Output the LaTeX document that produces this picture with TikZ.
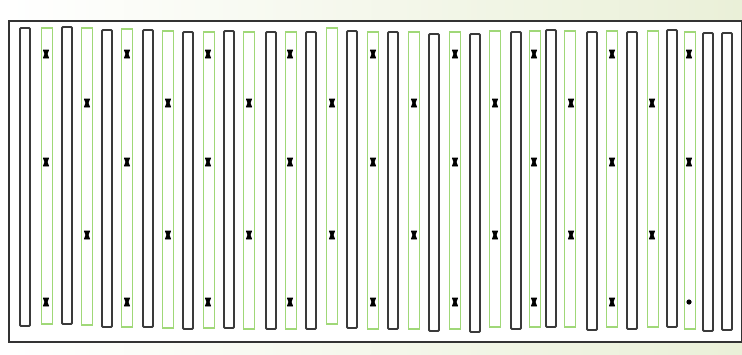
\documentclass[tikz,border=0pt]{standalone}
\begin{document}
\begin{tikzpicture}[x=1pt,y=-1pt,
  blackbar/.style={draw=barblack,line width=1.8pt,rounded corners=1pt},
  greenbar/.style={draw=bargreen,line width=1.4pt},
  frame/.style={draw=frameblack,line width=1.8pt,fill=white},
  conn/.pic={\filldraw[black,line width=0.9pt,line join=round] (-2.6,-4) -- (2.6,-4) -- (1,0) -- (2.6,4) -- (-2.6,4) -- (-1,0) -- cycle;},
  conndot/.pic={\fill[black] (0,0) circle (2.6pt);}]
\definecolor{barblack}{HTML}{3A3A3A}
\definecolor{bargreen}{HTML}{A0D878}
\definecolor{frameblack}{HTML}{333333}
\definecolor{bgtint}{HTML}{EAF0D8}
\useasboundingbox (0,0) rectangle (742,354);
\shade[left color=white,right color=bgtint] (0,0) rectangle (742,354);
\node[frame,minimum width=733pt,minimum height=321pt,inner sep=0pt,anchor=north west] (board) at (8,20) {};
% black bars: x / top / bottom
\foreach \x/\t/\b [count=\i] in {25/28/326,67/27/324,107/30/327,148/30/327,188/32/329,229/31/328,271/32/329,311/32/329,352/31/328,393/32/329,434/34/331,475/34/332,516/32/329,551/30/327,592/32/330,632/32/329,672/30/327,708/33/331,727/33/330}
  \draw[blackbar] (\x-5,\t) rectangle (\x+5,\b) coordinate (kb\i);
% green bars
\foreach \x/\t/\b [count=\i] in {47/28/324,87/28/325,127/29/327,168/31/328,209/32/328,249/32/329,291/32/329,332/28/324,373/32/329,414/32/329,455/32/329,495/31/327,535/31/327,570/31/327,612/31/327,653/31/327,690/32/329}
  \draw[greenbar] (\x-5.5,\t) rectangle (\x+5.5,\b) coordinate (gb\i);
% connectors on green bars
\foreach \x in {46,127,208,290,373,455,534,612,689}{
  \pic at (\x,54) {conn};
  \pic at (\x,162) {conn};
}
\foreach \x in {46,127,208,290,373,455,534,612}{
  \pic at (\x,302) {conn};
}
\pic at (689,302) {conndot};
\foreach \x in {87,168,249,332,414,495,571,652}{
  \pic at (\x,103) {conn};
  \pic at (\x,235) {conn};
}
\end{tikzpicture}
\end{document}
